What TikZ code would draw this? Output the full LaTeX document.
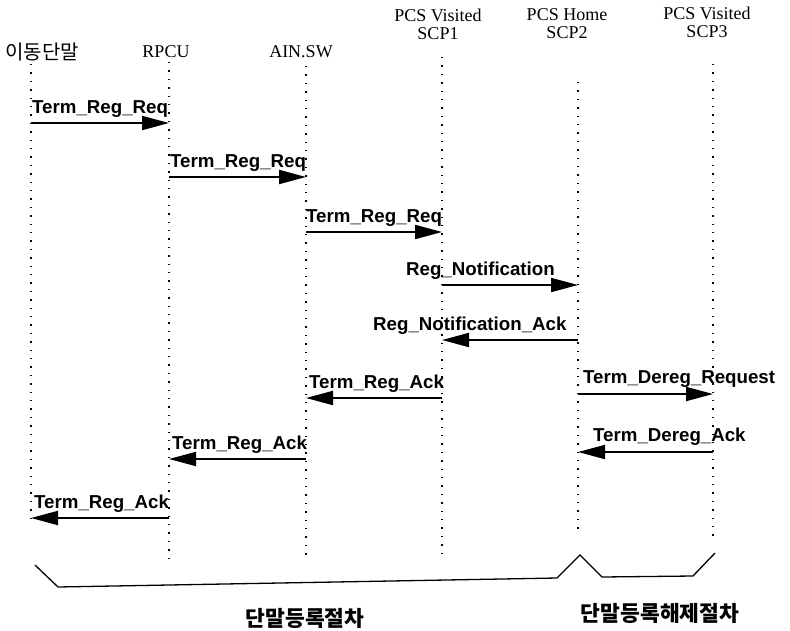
\documentclass[tikz,border=0pt]{standalone}
\usepackage{fontspec}
\setmainfont{Liberation Serif}
\setsansfont{Liberation Sans}
\newfontfamily\krfont{Noto Sans CJK KR}
\usetikzlibrary{arrows.meta}
\begin{document}
\begin{tikzpicture}[x=1pt,y=-1pt,
  lifeline/.style={line width=1.4pt, dash pattern=on 1.4pt off 7pt},
  msg/.style={line width=1.9pt, -{Triangle[length=27pt,width=14pt]}},
  msglabel/.style={font=\sffamily\bfseries\fontsize{18.7}{20}\selectfont, inner sep=0pt, anchor=base west},
  head/.style={font=\fontsize{18}{18}\selectfont, align=center, inner sep=0pt},
  bracketline/.style={line width=1.3pt, line join=miter},
  phase/.style={font=\krfont\bfseries\fontsize{21.5}{22}\selectfont, inner sep=0pt}]
\useasboundingbox (0,0) rectangle (790,630);
\def\xMS{31}\def\xRP{169}\def\xAIN{306}\def\xSa{442}\def\xSb{578}\def\xSc{713}
% headers
\node[head] (hMS) at (42,52) {\krfont\fontsize{20}{20}\selectfont 이동단말};
\node[head] (hRP) at (166,52) {RPCU};
\node[head] (hAIN) at (301,52) {AIN.SW};
\node[head] (hSa) at (438,24) {PCS Visited\\SCP1};
\node[head] (hSb) at (567,24) {PCS Home\\SCP2};
\node[head] (hSc) at (707,22) {PCS Visited\\SCP3};
% lifelines
\coordinate (MSt) at (\xMS,64);  \coordinate (MSb) at (\xMS,525);
\coordinate (RPt) at (\xRP,62);  \coordinate (RPb) at (\xRP,560);
\coordinate (AINt) at (\xAIN,66); \coordinate (AINb) at (\xAIN,557);
\coordinate (Sat) at (\xSa,57);  \coordinate (Sab) at (\xSa,555);
\coordinate (Sbt) at (\xSb,82);  \coordinate (Sbb) at (\xSb,532);
\coordinate (Sct) at (\xSc,64);  \coordinate (Scb) at (\xSc,540);
\draw[lifeline] (MSt) -- (MSb);
\draw[lifeline] (RPt) -- (RPb);
\draw[lifeline] (AINt) -- (AINb);
\draw[lifeline] (Sat) -- (Sab);
\draw[lifeline] (Sbt) -- (Sbb);
\draw[lifeline] (Sct) -- (Scb);
% message end points
\coordinate (m1a) at (\xMS,123);  \coordinate (m1b) at (\xRP,123);
\coordinate (m2a) at (\xRP,177);  \coordinate (m2b) at (\xAIN,177);
\coordinate (m3a) at (\xAIN,232); \coordinate (m3b) at (\xSa,232);
\coordinate (m4a) at (\xSa,285);  \coordinate (m4b) at (\xSb,285);
\coordinate (m5a) at (\xSb,340);  \coordinate (m5b) at (\xSa,340);
\coordinate (m6a) at (\xSa,398);  \coordinate (m6b) at (\xAIN,398);
\coordinate (m7a) at (\xSb,394);  \coordinate (m7b) at (\xSc,394);
\coordinate (m8a) at (\xSc,452);  \coordinate (m8b) at (\xSb,452);
\coordinate (m9a) at (\xAIN,459); \coordinate (m9b) at (\xRP,459);
\coordinate (m10a) at (\xRP,518); \coordinate (m10b) at (\xMS,518);
\draw[msg] (m1a) -- (m1b);
\draw[msg] (m2a) -- (m2b);
\draw[msg] (m3a) -- (m3b);
\draw[msg] (m4a) -- (m4b);
\draw[msg] (m5a) -- (m5b);
\draw[msg] (m6a) -- (m6b);
\draw[msg] (m7a) -- (m7b);
\draw[msg] (m8a) -- (m8b);
\draw[msg] (m9a) -- (m9b);
\draw[msg] (m10a) -- (m10b);
% labels
\node[msglabel] (l1) at (32,113) {Term\_Reg\_Req};
\node[msglabel] (l2) at (170,167) {Term\_Reg\_Req};
\node[msglabel] (l3) at (306,222) {Term\_Reg\_Req};
\node[msglabel] (l4) at (406,275) {Reg\_Notification};
\node[msglabel] (l5) at (373,330) {Reg\_Notification\_Ack};
\node[msglabel] (l6) at (309,388) {Term\_Reg\_Ack};
\node[msglabel] (l7) at (583,383) {Term\_Dereg\_Request};
\node[msglabel] (l8) at (593,441) {Term\_Dereg\_Ack};
\node[msglabel] (l9) at (172,449) {Term\_Reg\_Ack};
\node[msglabel] (l10) at (34,508) {Term\_Reg\_Ack};
% bracket
\coordinate (k1) at (35,565); \coordinate (k2) at (58,587);
\coordinate (k3) at (557,578); \coordinate (k4) at (580,555);
\coordinate (k5) at (602,577); \coordinate (k6) at (693,576);
\coordinate (k7) at (715,553);
\draw[bracketline] (k1) -- (k2) -- (k3) -- (k4) -- (k5) -- (k6) -- (k7);
\node[phase] (p1) at (305,618) {단말등록절차};
\node[phase] (p2) at (660,613) {단말등록해제절차};
\end{tikzpicture}
\end{document}
